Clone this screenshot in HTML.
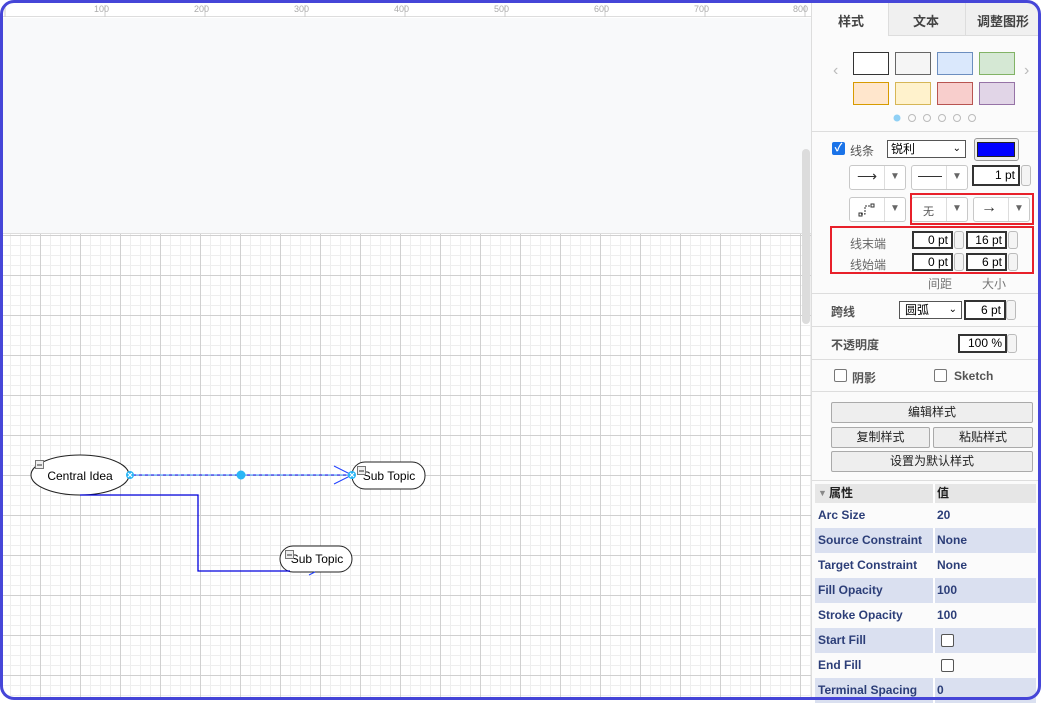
<!DOCTYPE html>
<html><head><meta charset="utf-8"><style>
*{box-sizing:border-box;margin:0;padding:0}
body{width:1041px;height:700px;overflow:hidden;background:#fff;position:relative;font-family:"Liberation Sans","Noto Sans CJK SC",sans-serif;font-size:12px;color:#333}
.a{position:absolute}
.frame{left:0;top:0;width:1041px;height:700px;border:3px solid #4646d8;border-radius:14px;z-index:50;pointer-events:none}
.grid{left:3px;top:234px;width:809px;height:463px;background-color:#fff;
background-image:linear-gradient(#d0d0d0 1px,transparent 1px),linear-gradient(90deg,#d0d0d0 1px,transparent 1px),linear-gradient(#eeeeee 1px,transparent 1px),linear-gradient(90deg,#eeeeee 1px,transparent 1px);
background-size:40px 40px,40px 40px,10px 10px,10px 10px;background-position:-3px 1px,-3px 1px,-3px 1px,-3px 1px}
.btn{border:1px solid #c8c8c8;border-radius:3px;background:#fff}
.inp{border:2px solid #333;background:#fff;text-align:right;font-size:12px;padding-right:3px;line-height:14px;color:#000}
.spin{width:10px;border:1px solid #bbb;border-radius:3px;background:#f4f4f4}
.sep{left:812px;width:226px;height:1px;background:#ddd}
.gbtn{border:1px solid #aaa;border-radius:2px;background:#eee;text-align:center;font-size:12px;line-height:19px;color:#222}
.row{left:815px;width:221px;height:25px;font-size:12px;font-weight:bold;line-height:25px}
.row .k{position:absolute;left:3px;color:#2c3e78}
.row .v{position:absolute;left:122px;color:#2c3e78}
.row .d{position:absolute;left:118px;top:0;width:2px;height:25px;background:#fff}
.alt{background:#dae0f0}
.tri{color:#666;font-size:10px}
</style></head><body>
<div class="a frame"></div>
<!-- ruler -->
<div class="a" style="left:3px;top:3px;width:809px;height:14px;background:#fff;border-bottom:1px solid #ddd"></div>
<svg class="a" style="left:0;top:3px" width="812" height="14">
<g stroke="#ccc" stroke-width="1">
<line x1="5" y1="14" x2="5" y2="2"/>
<line x1="105" y1="14" x2="105" y2="2"/><line x1="205" y1="14" x2="205" y2="2"/><line x1="305" y1="14" x2="305" y2="2"/><line x1="405" y1="14" x2="405" y2="2"/><line x1="505" y1="14" x2="505" y2="2"/><line x1="605" y1="14" x2="605" y2="2"/><line x1="705" y1="14" x2="705" y2="2"/><line x1="805" y1="14" x2="805" y2="2"/>
</g>
<g fill="#aaa" font-size="9" font-family="Liberation Sans">
<text x="94" y="9">100</text><text x="194" y="9">200</text><text x="294" y="9">300</text><text x="394" y="9">400</text><text x="494" y="9">500</text><text x="594" y="9">600</text><text x="694" y="9">700</text><text x="793" y="9">800</text></g>
</svg>
<div class="a" style="left:3px;top:18px;width:809px;height:216px;background:#f8f9fa;border-bottom:1px solid #ddd"></div>
<div class="a grid"></div>
<div class="a" style="left:802px;top:149px;width:8px;height:175px;background:#dcdcdc;border-radius:4px"></div>
<div class="a" style="left:811px;top:3px;width:1px;height:694px;background:#ddd"></div>
<!-- diagram -->
<svg class="a" style="left:0;top:0" width="812" height="700">
<ellipse cx="80" cy="475" rx="49" ry="20" fill="#fff" stroke="#222" stroke-width="1"/>
<rect x="352" y="462" width="73" height="27" rx="13" fill="#fff" stroke="#222"/>
<rect x="280" y="546" width="72" height="26" rx="13" fill="#fff" stroke="#222"/>
<text x="80" y="480" font-size="12" text-anchor="middle" font-family="Liberation Sans" fill="#000">Central Idea</text>
<text x="389" y="480" font-size="12" text-anchor="middle" font-family="Liberation Sans" fill="#000">Sub Topic</text>
<text x="317" y="563" font-size="12" text-anchor="middle" font-family="Liberation Sans" fill="#000">Sub Topic</text>
<line x1="130" y1="475" x2="352" y2="475" stroke="#0000ee" stroke-width="1"/>
<line x1="130" y1="475" x2="352" y2="475" stroke="#3399ff" stroke-width="1" stroke-dasharray="3 3"/>
<polyline points="334,466 352,475 334,484" fill="none" stroke="#2040ff" stroke-width="1"/>
<polyline points="80,495 198,495 198,571 290,571" fill="none" stroke="#0000dd" stroke-width="1.3"/>
<line x1="309" y1="575" x2="315" y2="572" stroke="#2040ff"/>
<circle cx="241" cy="475" r="4.5" fill="#29b6f6"/>
<circle cx="130" cy="475" r="4" fill="#29b6f6"/><path d="M128 473l4 4M132 473l-4 4" stroke="#fff" stroke-width="1.2"/>
<circle cx="352" cy="475" r="4" fill="#29b6f6"/><path d="M350 473l4 4M354 473l-4 4" stroke="#fff" stroke-width="1.2"/>
<g fill="#eee" stroke="#777"><rect x="35.5" y="460.5" width="8" height="8"/><rect x="357.5" y="466.5" width="8" height="8"/><rect x="285.5" y="550.5" width="8" height="8"/></g>
<g stroke="#333"><line x1="37" y1="465" x2="42" y2="465"/><line x1="359" y1="471" x2="364" y2="471"/><line x1="287" y1="555" x2="292" y2="555"/></g>
</svg>
<!-- panel -->
<div class="a" style="left:812px;top:3px;width:226px;height:694px;background:#fbfbfb"></div>
<div class="a" style="left:888px;top:3px;width:150px;height:33px;background:#f0f0f0;border-left:1px solid #ddd;border-bottom:1px solid #ddd"></div>
<div class="a" style="left:965px;top:3px;width:1px;height:33px;background:#ddd"></div>
<div class="a" style="left:838px;top:11px;font-size:13px;font-weight:bold;color:#444">样式</div>
<div class="a" style="left:913px;top:11px;font-size:13px;font-weight:bold;color:#444">文本</div>
<div class="a" style="left:977px;top:11px;font-size:13px;font-weight:bold;color:#444">调整图形</div>
<div class="a" style="left:833px;top:62px;color:#bbb;font-size:16px">‹</div>
<div class="a" style="left:1024px;top:62px;color:#bbb;font-size:16px">›</div>
<div class="a" style="left:853px;top:52px;width:36px;height:23px;background:#fff;border:1px solid #333"></div>
<div class="a" style="left:895px;top:52px;width:36px;height:23px;background:#f5f5f5;border:1px solid #666"></div>
<div class="a" style="left:937px;top:52px;width:36px;height:23px;background:#dae8fc;border:1px solid #6c8ebf"></div>
<div class="a" style="left:979px;top:52px;width:36px;height:23px;background:#d5e8d4;border:1px solid #82b366"></div>
<div class="a" style="left:853px;top:82px;width:36px;height:23px;background:#ffe6cc;border:1px solid #d79b00"></div>
<div class="a" style="left:895px;top:82px;width:36px;height:23px;background:#fff2cc;border:1px solid #d6b656"></div>
<div class="a" style="left:937px;top:82px;width:36px;height:23px;background:#f8cecc;border:1px solid #b85450"></div>
<div class="a" style="left:979px;top:82px;width:36px;height:23px;background:#e1d5e7;border:1px solid #9673a6"></div>
<svg class="a" style="left:890px;top:112px" width="90" height="12"><circle cx="7" cy="6" r="3.5" fill="#8fd0f5"/><g fill="none" stroke="#bbb"><circle cx="22" cy="6" r="3.5"/><circle cx="37" cy="6" r="3.5"/><circle cx="52" cy="6" r="3.5"/><circle cx="67" cy="6" r="3.5"/><circle cx="82" cy="6" r="3.5"/></g></svg>
<div class="a sep" style="top:131px"></div>
<div class="a" style="left:832px;top:142px;width:13px;height:13px;background:#1a73e8;border-radius:2px;color:#fff;font-size:11px;line-height:13px;text-align:center;font-weight:bold">✓</div>
<div class="a" style="left:850px;top:142px;font-size:12px;color:#555">线条</div>
<div class="a" style="left:887px;top:140px;width:79px;height:18px;border:1px solid #555;background:#fff;font-size:12px;padding-left:3px;line-height:16px;color:#000">锐利<span style="position:absolute;right:4px;font-size:10px">⌄</span></div>
<div class="a" style="left:974px;top:138px;width:45px;height:23px;border:1px solid #999;border-radius:3px;background:#eee"></div>
<div class="a" style="left:977px;top:142px;width:38px;height:15px;background:#0000ff;border:1px solid #222"></div>
<!-- row2 -->
<div class="a btn" style="left:849px;top:165px;width:57px;height:25px"></div>
<div class="a" style="left:884px;top:166px;width:1px;height:23px;background:#ddd"></div>
<div class="a" style="left:857px;top:168px;font-size:14px">⟶</div><div class="a tri" style="left:890px;top:171px">▼</div>
<div class="a btn" style="left:911px;top:165px;width:57px;height:25px"></div>
<div class="a" style="left:946px;top:166px;width:1px;height:23px;background:#ddd"></div>
<div class="a" style="left:918px;top:176px;width:24px;height:1px;background:#333"></div><div class="a tri" style="left:952px;top:171px">▼</div>
<div class="a inp" style="left:972px;top:165px;width:48px;height:21px;line-height:17px">1 pt</div>
<div class="a spin" style="left:1021px;top:165px;height:21px"></div>
<!-- row3 -->
<div class="a btn" style="left:849px;top:197px;width:57px;height:25px"></div>
<div class="a" style="left:884px;top:198px;width:1px;height:23px;background:#ddd"></div>
<svg class="a" style="left:857px;top:200px" width="20" height="18"><path d="M4 14h4v-8h6" fill="none" stroke="#333" stroke-dasharray="2 1"/><rect x="2" y="13" width="3" height="3" fill="none" stroke="#333"/><rect x="14" y="4" width="3" height="3" fill="none" stroke="#333"/></svg>
<div class="a tri" style="left:890px;top:203px">▼</div>
<div class="a btn" style="left:911px;top:197px;width:57px;height:25px"></div>
<div class="a" style="left:946px;top:198px;width:1px;height:23px;background:#ddd"></div>
<div class="a" style="left:923px;top:203px;font-size:11px;color:#555">无</div><div class="a tri" style="left:952px;top:203px">▼</div>
<div class="a btn" style="left:973px;top:197px;width:57px;height:25px"></div>
<div class="a" style="left:1008px;top:198px;width:1px;height:23px;background:#ddd"></div>
<div class="a" style="left:981px;top:199px;font-size:16px">→</div><div class="a tri" style="left:1014px;top:203px">▼</div>
<div class="a" style="left:910px;top:193px;width:124px;height:32px;border:2px solid #e8202a"></div>
<div class="a" style="left:830px;top:226px;width:204px;height:48px;border:2px solid #e8202a"></div>
<div class="a" style="left:850px;top:235px;color:#666">线末端</div>
<div class="a" style="left:850px;top:256px;color:#666">线始端</div>
<div class="a inp" style="left:912px;top:231px;width:41px;height:18px">0 pt</div><div class="a spin" style="left:954px;top:231px;height:18px"></div>
<div class="a inp" style="left:966px;top:231px;width:41px;height:18px">16 pt</div><div class="a spin" style="left:1008px;top:231px;height:18px"></div>
<div class="a inp" style="left:912px;top:253px;width:41px;height:18px">0 pt</div><div class="a spin" style="left:954px;top:253px;height:18px"></div>
<div class="a inp" style="left:966px;top:253px;width:41px;height:18px">6 pt</div><div class="a spin" style="left:1008px;top:253px;height:18px"></div>
<div class="a" style="left:928px;top:275px;color:#777">间距</div>
<div class="a" style="left:982px;top:275px;color:#777">大小</div>
<div class="a sep" style="top:293px"></div>
<div class="a" style="left:831px;top:303px;font-weight:bold;color:#555">跨线</div>
<div class="a" style="left:899px;top:301px;width:63px;height:18px;border:1px solid #555;background:#fff;padding-left:5px;line-height:16px;color:#000">圆弧<span style="position:absolute;right:4px;font-size:10px">⌄</span></div>
<div class="a inp" style="left:964px;top:300px;width:42px;height:20px;line-height:16px">6 pt</div><div class="a spin" style="left:1006px;top:300px;height:20px"></div>
<div class="a sep" style="top:326px"></div>
<div class="a" style="left:831px;top:336px;font-weight:bold;color:#555">不透明度</div>
<div class="a inp" style="left:958px;top:334px;width:49px;height:19px;line-height:15px">100 %</div><div class="a spin" style="left:1007px;top:334px;height:19px"></div>
<div class="a sep" style="top:359px"></div>
<div class="a" style="left:834px;top:369px;width:13px;height:13px;border:1px solid #777;border-radius:2px;background:#fff"></div>
<div class="a" style="left:852px;top:369px;font-weight:bold;color:#555">阴影</div>
<div class="a" style="left:934px;top:369px;width:13px;height:13px;border:1px solid #777;border-radius:2px;background:#fff"></div>
<div class="a" style="left:954px;top:369px;font-weight:bold;color:#555">Sketch</div>
<div class="a sep" style="top:391px"></div>
<div class="a gbtn" style="left:831px;top:402px;width:202px;height:21px">编辑样式</div>
<div class="a gbtn" style="left:831px;top:427px;width:99px;height:21px">复制样式</div>
<div class="a gbtn" style="left:933px;top:427px;width:100px;height:21px">粘贴样式</div>
<div class="a gbtn" style="left:831px;top:451px;width:202px;height:21px">设置为默认样式</div>
<div class="a sep" style="top:480px"></div>
<!-- table -->
<div class="a" style="left:815px;top:484px;width:221px;height:19px;background:#e6e6e6;font-weight:bold;color:#222;line-height:19px"><span style="position:absolute;left:3px;font-size:9px;color:#888">▼</span><span style="position:absolute;left:14px">属性</span><span style="position:absolute;left:122px">值</span><span style="position:absolute;left:118px;top:0;width:2px;height:19px;background:#fff"></span></div>
<div class="a row" style="top:503px"><span class="k">Arc Size</span><span class="v">20</span></div>
<div class="a row alt" style="top:528px"><span class="d"></span><span class="k">Source Constraint</span><span class="v">None</span></div>
<div class="a row" style="top:553px"><span class="k">Target Constraint</span><span class="v">None</span></div>
<div class="a row alt" style="top:578px"><span class="d"></span><span class="k">Fill Opacity</span><span class="v">100</span></div>
<div class="a row" style="top:603px"><span class="k">Stroke Opacity</span><span class="v">100</span></div>
<div class="a row alt" style="top:628px"><span class="d"></span><span class="k">Start Fill</span><span style="position:absolute;left:126px;top:6px;width:13px;height:13px;border:1px solid #555;border-radius:2px;background:#fff"></span></div>
<div class="a row" style="top:653px"><span class="k">End Fill</span><span style="position:absolute;left:126px;top:6px;width:13px;height:13px;border:1px solid #555;border-radius:2px;background:#fff"></span></div>
<div class="a row alt" style="top:678px"><span class="d"></span><span class="k">Terminal Spacing</span><span class="v">0</span></div>
</body></html>
